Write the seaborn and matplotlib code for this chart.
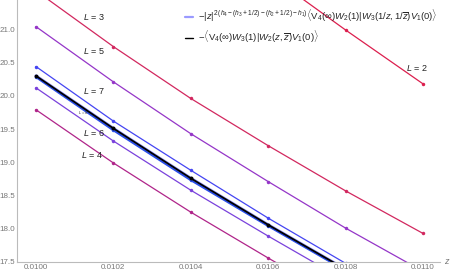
import numpy as np
import pandas as pd
import matplotlib
matplotlib.use("Agg")
import matplotlib.pyplot as plt
import seaborn as sns
from matplotlib.lines import Line2D
from matplotlib.ticker import MultipleLocator

# ---- data ----
z = [0.0100, 0.0102, 0.0104, 0.0106, 0.0108, 0.0110]
L2 = [24.57, 23.63, 22.71, 21.83, 20.99, 20.18]
L3 = [21.58, 20.74, 19.96, 19.25, 18.57, 17.93]
L4 = [19.79, 18.99, 18.25, 17.56, 16.89, 16.25]
L5 = [21.04, 20.21, 19.43, 18.71, 18.01, 17.36]
L6 = [20.12, 19.32, 18.58, 17.89, 17.22, 16.60]
L7 = [20.44, 19.62, 18.88, 18.16, 17.48, 16.84]
L8 = [20.28, 19.48, 18.73, 18.04, 17.37, 16.74]
exact_cross = [20.30, 19.51, 18.76, 18.06, 17.39, 16.76]
exact_direct = [20.30, 19.51, 18.76, 18.06, 17.39, 16.76]

series_names = ["L = 2", "L = 3", "L = 4", "L = 5", "L = 6", "L = 7", "L = 8"]
series_vals = [L2, L3, L4, L5, L6, L7, L8]
series_cols = ["#dc1f4e", "#d2285f", "#b0258a", "#9536c8", "#7a42dc", "#4545f2", "#2a4ee8"]

legend1 = r"$-|z|^{2\,(h_4-(h_3+1/2)-(h_2+1/2)-h_1)}\langle \mathrm{V}_4(\infty)W_2(1)|W_3(1/z,1/\overline{z})V_1(0)\rangle$"
legend2 = r"$-\langle \mathrm{V}_4(\infty)W_3(1)|W_2(z,\overline{z})V_1(0)\rangle$"

rows = []
for n, v in zip(series_names, series_vals):
    for zi, vi in zip(z, v):
        rows.append((n, zi, vi))
df = pd.DataFrame(rows, columns=["series", "z", "value"])

sns.set_style("white")
plt.rcParams["font.family"] = ["Liberation Sans", "DejaVu Sans"]
plt.rcParams["mathtext.fontset"] = "custom"
plt.rcParams["mathtext.rm"] = "Liberation Sans"
plt.rcParams["mathtext.it"] = "Liberation Sans:italic"
plt.rcParams["mathtext.bf"] = "Liberation Sans:bold"

fig = plt.figure(figsize=(4.5, 2.74), dpi=100)
ax = fig.add_axes([17/450, 1-262/274, 423/450, 262/274])

# exact series (light blue under black)
sns.lineplot(x=z, y=exact_cross, ax=ax, color="#9a9aff", lw=2.2, marker="o",
             markersize=2.5, markeredgewidth=0, zorder=3)

for n, v, c in zip(series_names, series_vals, series_cols):
    sub = df[df.series == n]
    sns.lineplot(data=sub, x="z", y="value", ax=ax, color=c,
                 lw=1.4 if n == "L = 8" else 0.9, marker="o", markersize=2.5,
                 markeredgewidth=0, zorder=4 if n == "L = 8" else 2)

sns.lineplot(x=z, y=exact_direct, ax=ax, color="black", lw=1.3, marker="o",
             markersize=2.8, markeredgewidth=0, zorder=5)

ax.set_xlim(0.009951, 0.011044)
ax.set_ylim(17.5, 21.441)

ax.xaxis.set_major_locator(MultipleLocator(0.0002))
ax.xaxis.set_minor_locator(MultipleLocator(0.00005))
ax.yaxis.set_major_locator(MultipleLocator(0.5))
ax.yaxis.set_minor_locator(MultipleLocator(0.1))
ax.xaxis.set_major_formatter(matplotlib.ticker.FuncFormatter(lambda v, p: f"{v:.4f}"))
ax.yaxis.set_major_formatter(matplotlib.ticker.FuncFormatter(lambda v, p: f"{v:.1f}"))

for s in ["top", "right"]:
    ax.spines[s].set_visible(False)
for s in ["left", "bottom"]:
    ax.spines[s].set_color("#bbbbbb")
    ax.spines[s].set_linewidth(0.8)
ax.tick_params(which="both", direction="in", colors="#bbbbbb", labelcolor="#777777",
               labelsize=5.8, pad=1.2)
ax.tick_params(which="major", length=3.5, width=0.6)
ax.tick_params(which="minor", length=2, width=0.5)
ax.set_xlabel("")
ax.set_ylabel("")
if ax.get_legend():
    ax.get_legend().remove()

# z axis label
fig.text(446/450, 1-262/274, "z", style="italic", color="#777777", fontsize=6.5,
         ha="center", va="center")

# L labels
lab = {"L = 3": (94, 17), "L = 5": (94, 51), "L = 7": (94, 91), "L = 6": (94, 133),
       "L = 4": (92, 155), "L = 2": (417, 68)}
for t, (px, py) in lab.items():
    fig.text(px/450, 1-py/274, r"$L$" + t[1:], fontsize=6.5, ha="center", va="center",
             color="#222222")
fig.text(84/450, 1-113/274, r"$L$ = 8", fontsize=3, ha="center", va="center", color="#444444")

handles = [Line2D([0], [0], color="#9a9aff", lw=1.6), Line2D([0], [0], color="black", lw=1.0)]
fig.legend(handles, [legend1, legend2], loc="upper left", bbox_to_anchor=(185/450, 1-8/274),
           frameon=False, fontsize=6.8, handlelength=0.8, handletextpad=0.6,
           labelspacing=0.55, borderaxespad=0, borderpad=0)

fig.savefig("out.png", dpi=100)
